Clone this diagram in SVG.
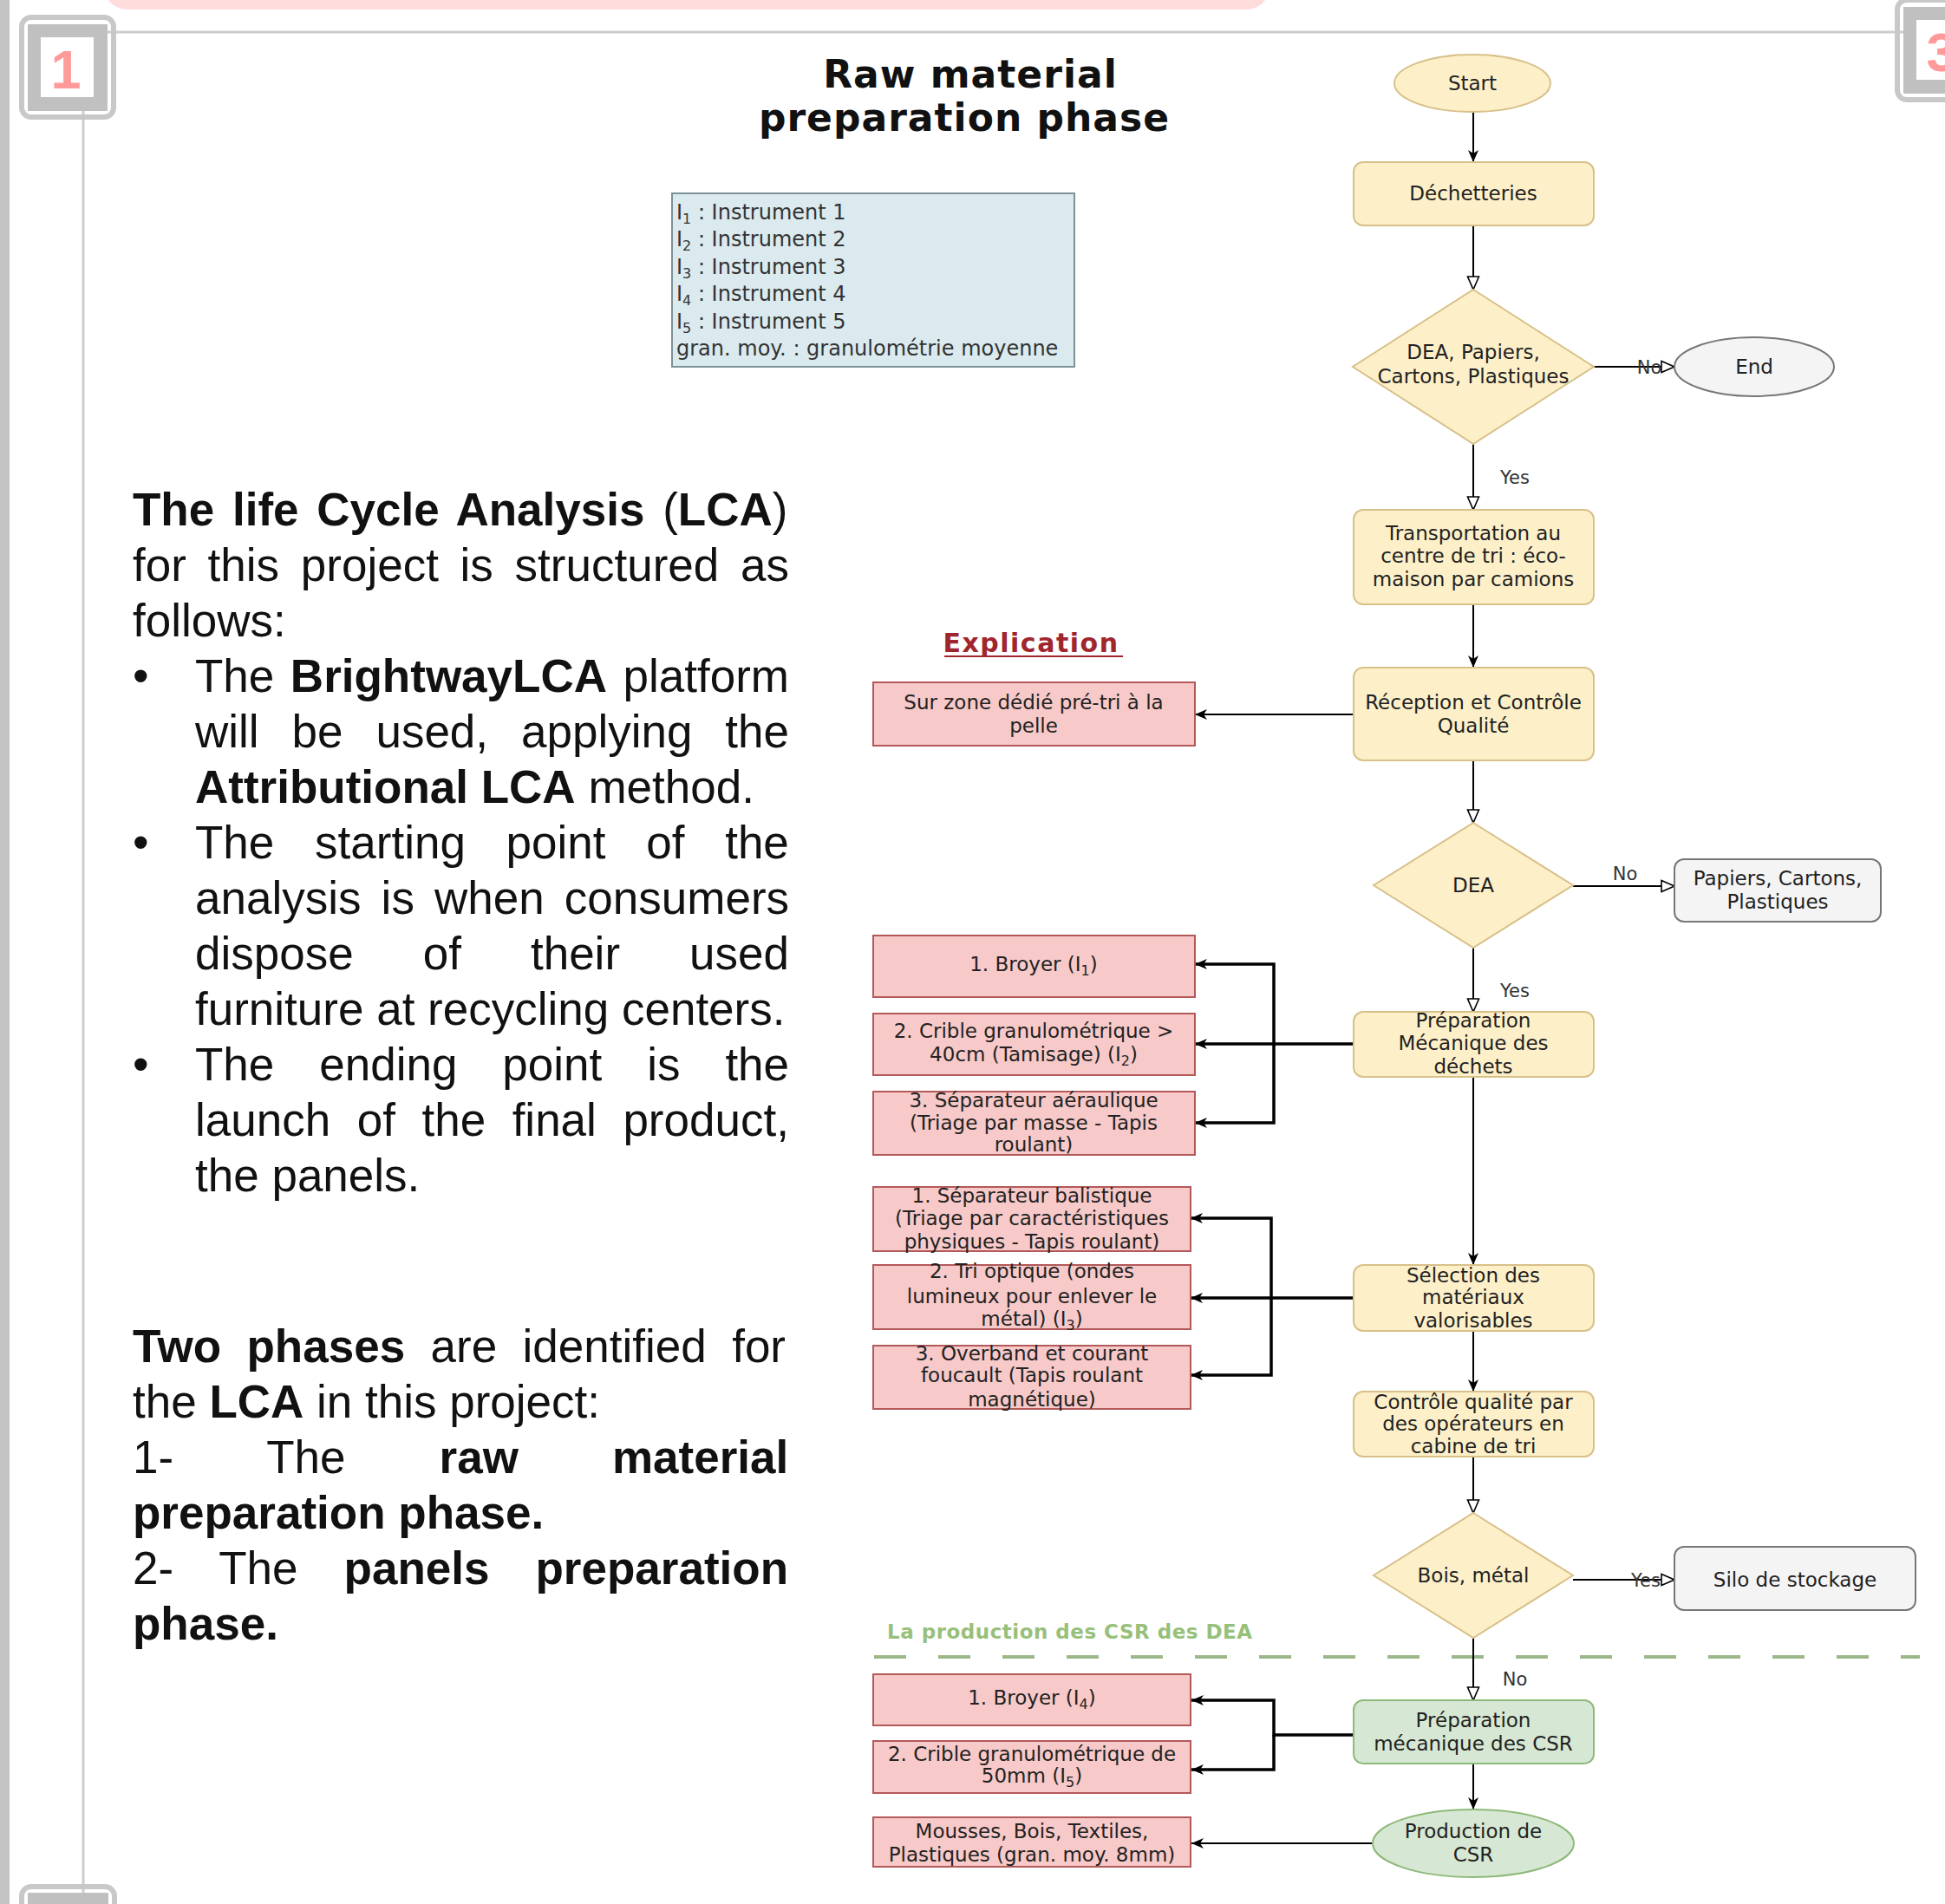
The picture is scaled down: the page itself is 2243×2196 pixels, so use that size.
<svg xmlns="http://www.w3.org/2000/svg" width="2243" height="2196" viewBox="0 0 2243 2196">
<defs>
<style>
.n text{font-family:"DejaVu Sans",sans-serif;font-size:23px;fill:#222;text-anchor:middle}
.yl{fill:#fdf0c9;stroke:#d8c089;stroke-width:2}
.pk{fill:#f7c9c8;stroke:#b3595a;stroke-width:2}
.gn{fill:#d6e8d3;stroke:#8fb97a;stroke-width:2}
.gy{fill:#f4f4f4;stroke:#777;stroke-width:2}
.gt{fill:#333}
.c{fill:none;stroke:#000;stroke-width:2}
.ck{fill:none;stroke:#000;stroke-width:3.5}
.lbl{font-family:"DejaVu Sans",sans-serif;font-size:21px;fill:#333;text-anchor:middle}
.body{font-family:"Liberation Sans",Arial,sans-serif;font-size:53px;fill:#111}
.b{font-weight:bold}
.leg{font-family:"DejaVu Sans",sans-serif;font-size:24px;fill:#333}
.fr{fill:none;stroke:#c8c8c8}
</style>
<marker id="af" viewBox="0 0 14 12" refX="14" refY="6" markerWidth="14" markerHeight="12" markerUnits="userSpaceOnUse" orient="auto"><path d="M0,0 L14,6 L0,12 L4,6 z" fill="#000"/></marker>
<marker id="ao" viewBox="0 0 17 16" refX="16" refY="8" markerWidth="17" markerHeight="16" markerUnits="userSpaceOnUse" orient="auto"><path d="M1,1.5 L16,8 L1,14.5 z" fill="#fff" stroke="#000" stroke-width="1.6"/></marker>
</defs>
<rect width="2243" height="2196" fill="#fff"/>

<g id="frame">
<rect x="0" y="0" width="11" height="2196" fill="#c3c3c3"/>
<rect x="122" y="-30" width="1340" height="41" rx="26" fill="#ffdcdc"/>
<line x1="124" y1="37" x2="2195" y2="37" stroke="#cdcdcd" stroke-width="3"/>
<line x1="96" y1="128" x2="96" y2="2183" stroke="#cdcdcd" stroke-width="3"/>
<rect x="25" y="20" width="106" height="115" rx="11" class="fr" stroke-width="6"/>
<rect x="32" y="28" width="92" height="100" fill="#c0c0c0"/>
<rect x="47" y="43" width="61" height="69" fill="#fff"/>
<text x="76" y="102" font-family="Liberation Sans,Arial,sans-serif" font-weight="bold" font-size="63" fill="#ff9a9a" text-anchor="middle">1</text>
<rect x="25" y="2176" width="107" height="60" rx="11" class="fr" stroke-width="6"/>
<rect x="32" y="2183" width="93" height="40" fill="#c0c0c0"/>
<rect x="2188" y="0" width="80" height="115" rx="11" class="fr" stroke-width="6"/>
<rect x="2195" y="8" width="60" height="100" fill="#c0c0c0"/>
<rect x="2210" y="23" width="40" height="69" fill="#fff"/>
<text x="2239" y="82" font-family="Liberation Sans,Arial,sans-serif" font-weight="bold" font-size="63" fill="#ff9a9a" text-anchor="middle">3</text>
</g>

<g id="title" font-family="DejaVu Sans,sans-serif" font-weight="bold" font-size="44" letter-spacing="1" fill="#111" text-anchor="middle">
<text x="1119" y="101">Raw material</text>
<text x="1112" y="151">preparation phase</text>
</g>

<g id="legend">
<rect x="775" y="223" width="464" height="200" fill="#dbeaee" stroke="#7d9197" stroke-width="2"/>
<text class="leg" x="780" y="253">I<tspan font-size="16" dy="5">1</tspan><tspan dy="-5"> : Instrument 1</tspan></text>
<text class="leg" x="780" y="284">I<tspan font-size="16" dy="5">2</tspan><tspan dy="-5"> : Instrument 2</tspan></text>
<text class="leg" x="780" y="316">I<tspan font-size="16" dy="5">3</tspan><tspan dy="-5"> : Instrument 3</tspan></text>
<text class="leg" x="780" y="347">I<tspan font-size="16" dy="5">4</tspan><tspan dy="-5"> : Instrument 4</tspan></text>
<text class="leg" x="780" y="379">I<tspan font-size="16" dy="5">5</tspan><tspan dy="-5"> : Instrument 5</tspan></text>
<text class="leg" x="780" y="410">gran. moy. : granulométrie moyenne</text>
</g>

<g id="intro-text" class="body">
<text class="body" x="153" y="606" word-spacing="6"><tspan class="b">The life Cycle Analysis </tspan>(<tspan class="b">LCA</tspan>)</text>
<text class="body" x="153" y="670" word-spacing="10">for this project is structured as</text>
<text class="body" x="153" y="734">follows:</text>
<text class="body" x="153" y="798">•</text>
<text class="body" x="225" y="798" word-spacing="3.8">The <tspan class="b">BrightwayLCA</tspan> platform</text>
<text class="body" x="225" y="862" word-spacing="23.2">will be used, applying the</text>
<text class="body" x="225" y="926"><tspan class="b">Attributional LCA</tspan> method.</text>
<text class="body" x="153" y="990">•</text>
<text class="body" x="225" y="990" word-spacing="32">The starting point of the</text>
<text class="body" x="225" y="1054" word-spacing="8.4">analysis is when consumers</text>
<text class="body" x="225" y="1118" word-spacing="65.3">dispose of their used</text>
<text class="body" x="225" y="1182">furniture at recycling centers.</text>
<text class="body" x="153" y="1246">•</text>
<text class="body" x="225" y="1246" word-spacing="37.2">The ending point is the</text>
<text class="body" x="225" y="1310" word-spacing="15.8">launch of the final product,</text>
<text class="body" x="225" y="1374">the panels.</text>
<text class="body" x="153" y="1571" word-spacing="14.7"><tspan class="b">Two phases</tspan> are identified for</text>
<text class="body" x="153" y="1635">the <tspan class="b">LCA</tspan> in this project:</text>
<text class="body" x="153" y="1699" word-spacing="93.3">1- The <tspan class="b">raw material</tspan></text>
<text class="body b" x="153" y="1763">preparation phase.</text>
<text class="body" x="153" y="1827" word-spacing="38.3">2- The <tspan class="b">panels preparation</tspan></text>
<text class="body b" x="153" y="1891">phase.</text>
</g>

<g id="labels">
<text x="1189" y="752" font-family="DejaVu Sans,sans-serif" font-weight="bold" font-size="30" letter-spacing="1.5" fill="#a0262e" text-anchor="middle">Explication</text>
<line x1="1089" y1="757" x2="1295" y2="757" stroke="#a0262e" stroke-width="2"/>
<text x="1023" y="1890" font-family="DejaVu Sans,sans-serif" font-weight="bold" font-size="23" letter-spacing="0.5" fill="#97c07a">La production des CSR des DEA</text>
<line x1="1008" y1="1911" x2="2214" y2="1911" stroke="#9cb88a" stroke-width="4" stroke-dasharray="37 37"/>
</g>

<g id="connectors">
<path class="c" d="M1699,129 V187" marker-end="url(#af)"/>
<path class="c" d="M1699,260 V334" marker-end="url(#ao)"/>
<path class="c" d="M1838,423 H1931" marker-end="url(#ao)"/>
<path class="c" d="M1699,512 V588" marker-end="url(#ao)"/>
<path class="c" d="M1699,697 V770" marker-end="url(#af)"/>
<path class="c" d="M1561,824 H1378" marker-end="url(#af)"/>
<path class="c" d="M1699,877 V949" marker-end="url(#ao)"/>
<path class="c" d="M1814,1022 H1931" marker-end="url(#ao)"/>
<path class="c" d="M1699,1093 V1167" marker-end="url(#ao)"/>
<path class="ck" d="M1561,1204 H1378" marker-end="url(#af)"/>
<path class="ck" d="M1469,1204 V1112 H1378" marker-end="url(#af)"/>
<path class="ck" d="M1469,1204 V1295 H1378" marker-end="url(#af)"/>
<path class="c" d="M1699,1242 V1459" marker-end="url(#af)"/>
<path class="ck" d="M1561,1497 H1373" marker-end="url(#af)"/>
<path class="ck" d="M1466,1497 V1405 H1373" marker-end="url(#af)"/>
<path class="ck" d="M1466,1497 V1586 H1373" marker-end="url(#af)"/>
<path class="c" d="M1699,1535 V1605" marker-end="url(#af)"/>
<path class="c" d="M1699,1680 V1745" marker-end="url(#ao)"/>
<path class="c" d="M1814,1822 H1931" marker-end="url(#ao)"/>
<path class="c" d="M1699,1889 V1961" marker-end="url(#ao)"/>
<path class="ck" d="M1561,2001 H1469 V1961 H1374" marker-end="url(#af)"/>
<path class="ck" d="M1469,2001 V2041 H1374" marker-end="url(#af)"/>
<path class="c" d="M1699,2034 V2087" marker-end="url(#af)"/>
<path class="c" d="M1583,2126 H1374" stroke="#333" stroke-width="3" marker-end="url(#af)"/>
<text class="lbl" x="1902" y="431">No</text>
<text class="lbl" x="1747" y="558">Yes</text>
<text class="lbl" x="1874" y="1015">No</text>
<text class="lbl" x="1747" y="1150">Yes</text>
<text class="lbl" x="1898" y="1830">Yes</text>
<text class="lbl" x="1747" y="1944">No</text>
</g>

<g id="n-start" class="n"><ellipse cx="1698" cy="96" rx="90" ry="33" class="yl"/><text x="1698" y="104">Start</text></g>
<g id="n-dechetteries" class="n"><rect x="1561" y="187" width="277" height="73" rx="11" class="yl"/><text x="1699" y="231">Déchetteries</text></g>
<g id="n-dec1" class="n"><path d="M1699,334 L1838,423 L1699,512 L1560,423 Z" class="yl"/><text x="1699" y="414">DEA, Papiers,</text><text x="1699" y="442">Cartons, Plastiques</text></g>
<g id="n-end" class="n"><ellipse cx="2023" cy="423" rx="92" ry="34" class="gy"/><text x="2023" y="431" class="gt">End</text></g>
<g id="n-transport" class="n"><rect x="1561" y="588" width="277" height="109" rx="11" class="yl"/><text x="1699" y="623">Transportation au</text><text x="1699" y="649">centre de tri : éco-</text><text x="1699" y="676">maison par camions</text></g>
<g id="n-reception" class="n"><rect x="1561" y="770" width="277" height="107" rx="11" class="yl"/><text x="1699" y="818">Réception et Contrôle</text><text x="1699" y="845">Qualité</text></g>
<g id="n-surzone" class="n"><rect x="1007" y="787" width="371" height="73" class="pk"/><text x="1192" y="818">Sur zone dédié pré-tri à la</text><text x="1192" y="845">pelle</text></g>
<g id="n-dea" class="n"><path d="M1699,949 L1814,1021 L1699,1093 L1584,1021 Z" class="yl"/><text x="1699" y="1029">DEA</text></g>
<g id="n-papiers" class="n"><rect x="1931" y="991" width="238" height="72" rx="11" class="gy"/><text x="2050" y="1021" class="gt">Papiers, Cartons,</text><text x="2050" y="1048" class="gt">Plastiques</text></g>
<g id="n-prepmeca" class="n"><rect x="1561" y="1167" width="277" height="75" rx="11" class="yl"/><text x="1699" y="1185">Préparation</text><text x="1699" y="1211">Mécanique des</text><text x="1699" y="1238">déchets</text></g>
<g id="n-broyer1" class="n"><rect x="1007" y="1079" width="371" height="71" class="pk"/><text x="1192" y="1120">1. Broyer (I<tspan font-size="16" dy="5">1</tspan><tspan dy="-5">)</tspan></text></g>
<g id="n-crible40" class="n"><rect x="1007" y="1169" width="371" height="71" class="pk"/><text x="1192" y="1197">2. Crible granulométrique &gt;</text><text x="1192" y="1224">40cm (Tamisage) (I<tspan font-size="16" dy="5">2</tspan><tspan dy="-5">)</tspan></text></g>
<g id="n-aeraulique" class="n"><rect x="1007" y="1259" width="371" height="73" class="pk"/><text x="1192" y="1277">3. Séparateur aéraulique</text><text x="1192" y="1303">(Triage par masse - Tapis</text><text x="1192" y="1328">roulant)</text></g>
<g id="n-selection" class="n"><rect x="1561" y="1459" width="277" height="76" rx="11" class="yl"/><text x="1699" y="1479">Sélection des</text><text x="1699" y="1504">matériaux</text><text x="1699" y="1531">valorisables</text></g>
<g id="n-balistique" class="n"><rect x="1007" y="1369" width="366" height="74" class="pk"/><text x="1190" y="1387">1. Séparateur balistique</text><text x="1190" y="1413">(Triage par caractéristiques</text><text x="1190" y="1440">physiques - Tapis roulant)</text></g>
<g id="n-optique" class="n"><rect x="1007" y="1459" width="366" height="74" class="pk"/><text x="1190" y="1474">2. Tri optique (ondes</text><text x="1190" y="1503">lumineux pour enlever le</text><text x="1190" y="1529">métal) (I<tspan font-size="16" dy="5">3</tspan><tspan dy="-5">)</tspan></text></g>
<g id="n-overband" class="n"><rect x="1007" y="1552" width="366" height="73" class="pk"/><text x="1190" y="1569">3. Overband et courant</text><text x="1190" y="1594">foucault (Tapis roulant</text><text x="1190" y="1622">magnétique)</text></g>
<g id="n-controle" class="n"><rect x="1561" y="1605" width="277" height="75" rx="11" class="yl"/><text x="1699" y="1625">Contrôle qualité par</text><text x="1699" y="1650">des opérateurs en</text><text x="1699" y="1676">cabine de tri</text></g>
<g id="n-bois" class="n"><path d="M1699,1745 L1814,1817 L1699,1889 L1584,1817 Z" class="yl"/><text x="1699" y="1825">Bois, métal</text></g>
<g id="n-silo" class="n"><rect x="1931" y="1784" width="278" height="73" rx="11" class="gy"/><text x="2070" y="1830" class="gt">Silo de stockage</text></g>
<g id="n-prepcsr" class="n"><rect x="1561" y="1961" width="277" height="73" rx="11" class="gn"/><text x="1699" y="1992">Préparation</text><text x="1699" y="2019">mécanique des CSR</text></g>
<g id="n-broyer4" class="n"><rect x="1007" y="1931" width="366" height="59" class="pk"/><text x="1190" y="1966">1. Broyer (I<tspan font-size="16" dy="5">4</tspan><tspan dy="-5">)</tspan></text></g>
<g id="n-crible50" class="n"><rect x="1007" y="2008" width="366" height="60" class="pk"/><text x="1190" y="2031">2. Crible granulométrique de</text><text x="1190" y="2056">50mm (I<tspan font-size="16" dy="5">5</tspan><tspan dy="-5">)</tspan></text></g>
<g id="n-production" class="n"><ellipse cx="1699" cy="2126" rx="116" ry="39" class="gn"/><text x="1699" y="2120">Production de</text><text x="1699" y="2147">CSR</text></g>
<g id="n-mousses" class="n"><rect x="1007" y="2096" width="366" height="57" class="pk"/><text x="1190" y="2120">Mousses, Bois, Textiles,</text><text x="1190" y="2147">Plastiques (gran. moy. 8mm)</text></g>
</svg>
